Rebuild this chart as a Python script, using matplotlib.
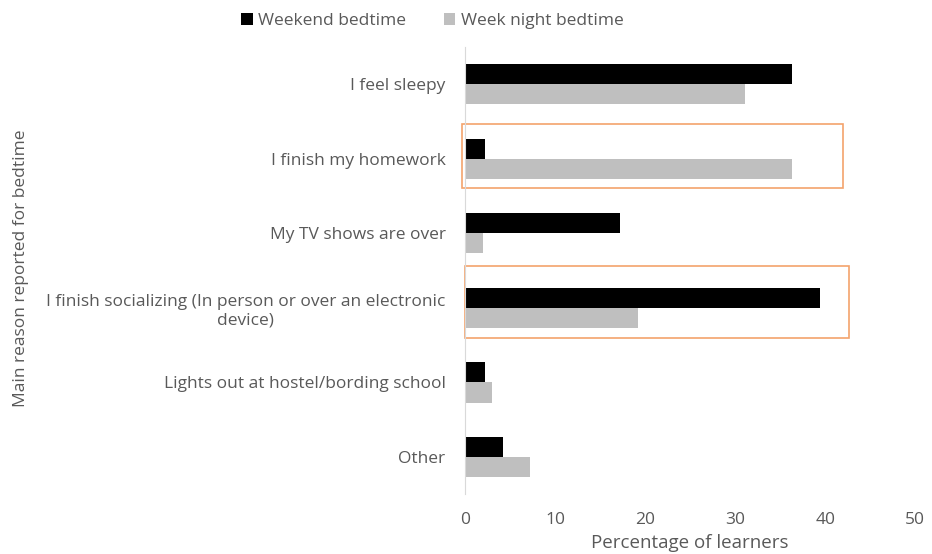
import numpy as np
import matplotlib.pyplot as plt
from matplotlib.patches import Rectangle

plt.rcParams['font.family'] = ['Open Sans', 'DejaVu Sans']

reasons = [
    'I feel sleepy',
    'I finish my homework',
    'My TV shows are over',
    'I finish socializing (In person or over an electronic\ndevice)',
    'Lights out at hostel/bording school',
    'Other',
]
weekend = [36.3, 2.2, 17.2, 39.4, 2.2, 4.2]
week_night = [31.1, 36.3, 2.0, 19.2, 3.0, 7.2]

TEXT = '#595959'

fig = plt.figure(figsize=(9.32, 5.54), dpi=100)
ax = fig.add_axes([0.499, 0.108, 0.483, 0.807])

y = np.arange(len(reasons))
h = 0.27
ax.barh(y - h / 2, weekend, height=h, color='black', label='Weekend bedtime')
ax.barh(y + h / 2, week_night, height=h, color='#bfbfbf', label='Week night bedtime')

ax.set_xlim(0, 50)
ax.set_ylim(len(reasons) - 0.5, -0.5)
ax.set_xticks([0, 10, 20, 30, 40, 50])
ax.set_yticks(y)
ax.set_yticklabels(reasons, multialignment='center')
ax.tick_params(axis='both', length=0, labelsize=12.5, colors=TEXT)
ax.tick_params(axis='x', pad=13)
ax.tick_params(axis='y', pad=14)

for side in ['top', 'right', 'bottom']:
    ax.spines[side].set_visible(False)
ax.spines['left'].set_color('#d9d9d9')

ax.set_xlabel('Percentage of learners', fontsize=13.5, color=TEXT, labelpad=4)
fig.text(0.022, 0.515, 'Main reason reported for bedtime', rotation=90,
         fontsize=12.5, color=TEXT, ha='center', va='center')

# orange boxes around two rows
ax.add_patch(Rectangle((-0.3, 0.53), 42.3, 0.86, fill=False, edgecolor='#f4a36c',
                       linewidth=1.2, clip_on=False))
ax.add_patch(Rectangle((0, 2.44), 42.6, 0.96, fill=False, edgecolor='#f4a36c',
                       linewidth=1.2, clip_on=False))

fig.legend(loc='center', bbox_to_anchor=(0.464, 0.962), ncol=2, frameon=False,
           fontsize=12.5, labelcolor=TEXT, handlelength=0.65, handleheight=0.65,
           columnspacing=2.2, handletextpad=0.3)

fig.savefig('out.png', dpi=100)
